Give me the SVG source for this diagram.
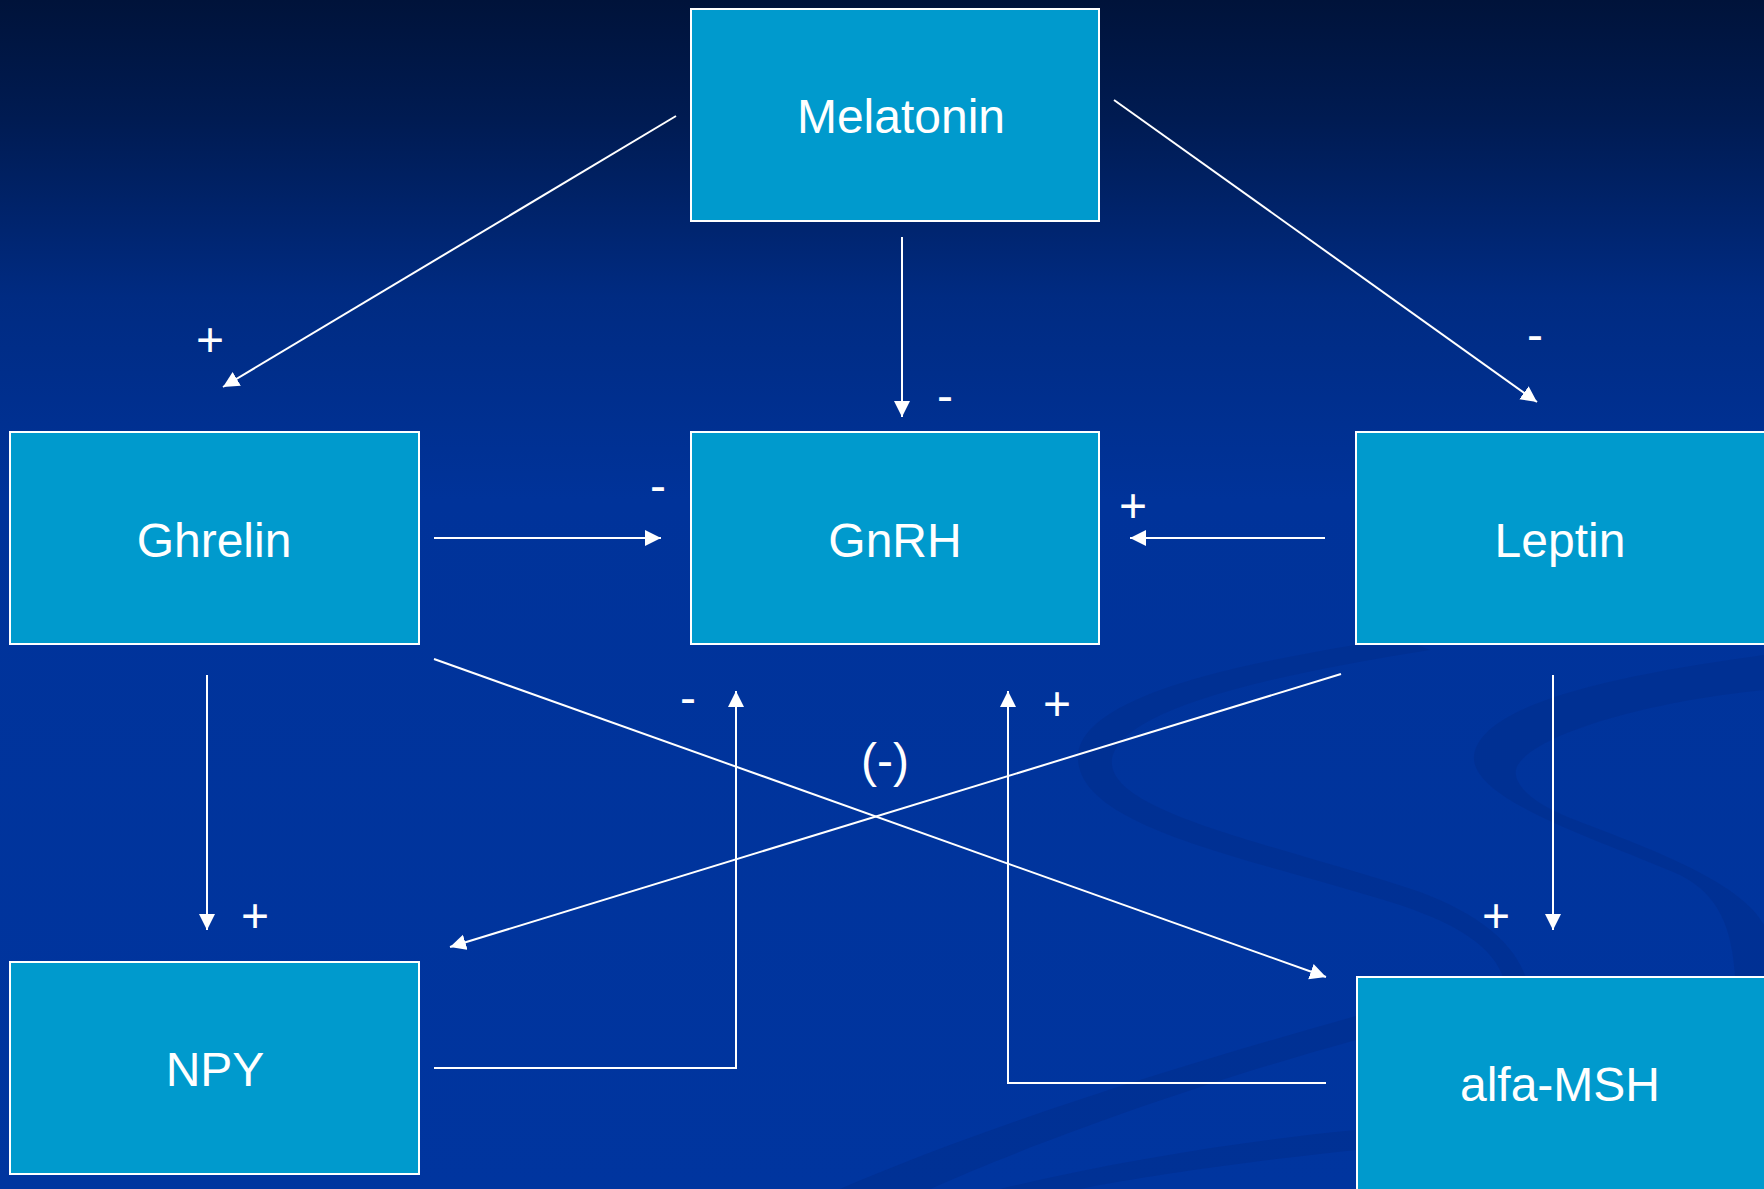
<svg xmlns="http://www.w3.org/2000/svg" width="1764" height="1189" viewBox="0 0 1764 1189">
  <defs>
    <linearGradient id="bg" x1="0" y1="0" x2="0" y2="1">
      <stop offset="0" stop-color="#00133a"/>
      <stop offset="0.1" stop-color="#001b52"/>
      <stop offset="0.25" stop-color="#002b82"/>
      <stop offset="0.42" stop-color="#00339a"/>
      <stop offset="1" stop-color="#00359f"/>
    </linearGradient>
    <marker id="arr" markerUnits="userSpaceOnUse" markerWidth="17" markerHeight="17" refX="16" refY="8" orient="auto">
      <path d="M0,0 L16,8 L0,16 Z" fill="#ffffff"/>
    </marker>
  </defs>
  <style>
    .box { fill: #009acd; stroke: #ffffff; stroke-width: 2; }
    .name { fill: #ffffff; font-family: "Liberation Sans", Arial, sans-serif; font-size: 48px; text-anchor: middle; }
    .lbl { fill: #ffffff; font-family: "Liberation Sans", Arial, sans-serif; font-size: 48px; text-anchor: middle; }
    .con { fill: none; stroke: #ffffff; stroke-width: 2; }
    .swoosh { fill: #002e8c; opacity: 0.55; }
  </style>

  <rect x="0" y="0" width="1764" height="1189" fill="url(#bg)"/>

  <g id="background-swooshes">
    <path class="swoosh" d="M1400 638 C1220 665 1075 700 1078 760 C1082 830 1260 860 1400 905 C1480 932 1505 960 1508 1000 L1530 1000 C1528 955 1490 918 1420 892 C1280 845 1118 815 1112 765 C1108 715 1250 678 1430 650 Z"/>
    <path class="swoosh" d="M1764 655 C1640 672 1480 700 1474 756 C1470 800 1600 840 1680 875 C1720 895 1732 930 1735 976 L1764 976 L1764 925 C1740 880 1640 845 1570 818 C1520 798 1508 775 1520 762 C1545 730 1660 700 1764 690 Z"/>
    <path class="swoosh" d="M840 1189 C1000 1120 1200 1060 1356 1016 L1356 1040 C1210 1080 1040 1140 930 1189 Z"/>
    <path class="swoosh" d="M1000 1189 C1120 1160 1250 1140 1356 1130 L1356 1150 C1260 1160 1150 1175 1080 1189 Z"/>
  </g>

  <g id="node-melatonin">
    <rect class="box" x="691" y="9" width="408" height="212"/>
    <text class="name" x="901" y="133">Melatonin</text>
  </g>
  <g id="node-ghrelin">
    <rect class="box" x="10" y="432" width="409" height="212"/>
    <text class="name" x="214" y="557">Ghrelin</text>
  </g>
  <g id="node-gnrh">
    <rect class="box" x="691" y="432" width="408" height="212"/>
    <text class="name" x="895" y="557">GnRH</text>
  </g>
  <g id="node-leptin">
    <rect class="box" x="1356" y="432" width="412" height="212"/>
    <text class="name" x="1560" y="557">Leptin</text>
  </g>
  <g id="node-npy">
    <rect class="box" x="10" y="962" width="409" height="212"/>
    <text class="name" x="215" y="1086">NPY</text>
  </g>
  <g id="node-alfa-msh">
    <rect class="box" x="1357" y="977" width="412" height="215"/>
    <text class="name" x="1560" y="1101">alfa-MSH</text>
  </g>

  <g id="connectors">
    <line class="con" x1="676" y1="116" x2="223" y2="387" marker-end="url(#arr)"/>
    <line class="con" x1="902" y1="237" x2="902" y2="417" marker-end="url(#arr)"/>
    <line class="con" x1="1114" y1="100" x2="1537" y2="402" marker-end="url(#arr)"/>
    <line class="con" x1="434" y1="538" x2="661" y2="538" marker-end="url(#arr)"/>
    <line class="con" x1="1325" y1="538" x2="1130" y2="538" marker-end="url(#arr)"/>
    <line class="con" x1="207" y1="675" x2="207" y2="930" marker-end="url(#arr)"/>
    <line class="con" x1="434" y1="659" x2="1326" y2="977" marker-end="url(#arr)"/>
    <line class="con" x1="1341" y1="674" x2="450" y2="947" marker-end="url(#arr)"/>
    <line class="con" x1="1553" y1="675" x2="1553" y2="930" marker-end="url(#arr)"/>
    <polyline class="con" points="434,1068 736,1068 736,691" marker-end="url(#arr)"/>
    <polyline class="con" points="1326,1083 1008,1083 1008,691" marker-end="url(#arr)"/>
  </g>

  <g id="labels">
    <text class="lbl" x="210" y="356">+</text>
    <text class="lbl" x="945" y="412">-</text>
    <text class="lbl" x="1535" y="351">-</text>
    <text class="lbl" x="658" y="502">-</text>
    <text class="lbl" x="1133" y="522">+</text>
    <text class="lbl" x="688" y="714">-</text>
    <text class="lbl" x="1057" y="720">+</text>
    <text class="lbl" x="885" y="777">(-)</text>
    <text class="lbl" x="255" y="932">+</text>
    <text class="lbl" x="1496" y="932">+</text>
  </g>
</svg>
